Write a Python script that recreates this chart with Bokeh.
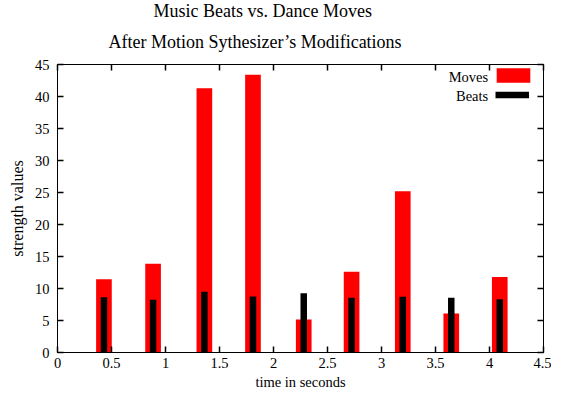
from bokeh.plotting import figure
from bokeh.models import LinearAxis, Range1d, Legend, LegendItem, Label, FixedTicker, Title
from bokeh.embed import file_html
from bokeh.resources import INLINE

# ---- data ----
times = [0.43, 0.885, 1.36, 1.81, 2.28, 2.723, 3.197, 3.646, 4.095]
moves = [11.45, 13.85, 41.3, 43.4, 5.15, 12.6, 25.2, 6.1, 11.8]
beats = [8.65, 8.23, 9.48, 8.75, 9.27, 8.54, 8.7, 8.54, 8.33]
x_ticks = [0, 0.5, 1, 1.5, 2, 2.5, 3, 3.5, 4, 4.5]
y_ticks = [0, 5, 10, 15, 20, 25, 30, 35, 40, 45]
zeros = [0] * len(times)
title_lines = ["Music Beats vs. Dance Moves", "After Motion Sythesizer\u2019s Modifications"]

FONT = "Liberation Serif"

p = figure(width=551, height=392, output_backend="svg", toolbar_location=None,
           x_range=Range1d(0, 4.5), y_range=Range1d(0, 45),
           min_border_left=57, min_border_right=8, min_border_top=64, min_border_bottom=40)
p.title = None
p.xgrid.visible = False
p.ygrid.visible = False
p.outline_line_color = "black"
p.outline_line_width = 1
p.background_fill_color = "white"
p.border_fill_color = "white"

red = p.vbar(x=times, width=0.145, top=moves, bottom=0, fill_color="#ff0000", line_color=None)
blk = p.segment(x0=times, y0=zeros, x1=times, y1=beats, line_color="black", line_width=6.5, line_cap="butt")

def style_axis(ax, labels=True):
    ax.major_tick_in = 6
    ax.major_tick_out = 0
    ax.minor_tick_in = 0
    ax.minor_tick_out = 0
    ax.axis_line_color = "black"
    ax.major_tick_line_color = "black"
    ax.major_tick_line_width = 1.5
    if labels:
        ax.major_label_text_font = FONT
        ax.major_label_text_font_size = "14.5px"
        ax.major_label_text_color = "black"
        ax.axis_label_text_font = FONT
        ax.axis_label_text_font_size = "14.5px"
        ax.axis_label_text_font_style = "normal"
        ax.axis_label_text_color = "black"
    else:
        ax.major_label_text_font_size = "1px"
        ax.major_label_text_alpha = 0
        ax.major_label_standoff = 0

xa = p.xaxis[0]
xa.ticker = FixedTicker(ticks=x_ticks)
xa.axis_label = "time in seconds"
style_axis(xa)
xa.major_label_standoff = 5
xa.axis_label_standoff = 3

ya = p.yaxis[0]
ya.ticker = FixedTicker(ticks=y_ticks)
ya.axis_label = "strength values"
style_axis(ya)
ya.axis_label_text_font_size = "16px"
ya.major_label_standoff = 8
ya.axis_label_standoff = 6

top_ax = LinearAxis(ticker=FixedTicker(ticks=x_ticks))
style_axis(top_ax, labels=False)
p.add_layout(top_ax, "above")
right_ax = LinearAxis(ticker=FixedTicker(ticks=y_ticks))
style_axis(right_ax, labels=False)
p.add_layout(right_ax, "right")

# two-line title (first added sits nearest to the plot)
p.add_layout(Title(text=title_lines[1], align="left", offset=51,
                   text_font=FONT, text_font_size="18px", text_font_style="normal",
                   text_color="black", standoff=26), "above")
p.add_layout(Title(text=title_lines[0], align="left", offset=96,
                   text_font=FONT, text_font_size="18px", text_font_style="normal",
                   text_color="black", standoff=-8), "above")

common = dict(location="top_right", label_width=0, padding=0, spacing=0,
              label_text_font_size="1px", label_text_alpha=0,
              border_line_color=None, background_fill_alpha=0)
leg_moves = Legend(items=[LegendItem(label=" ", renderers=[red])], margin=2,
                   glyph_width=42, glyph_height=18, label_height=1, label_standoff=7, **common)
leg_beats = Legend(items=[LegendItem(label=" ", renderers=[blk])], margin=13,
                   glyph_width=34, glyph_height=35, label_height=1, label_standoff=1, **common)
p.add_layout(leg_moves, "center")
p.add_layout(leg_beats, "center")

for txt, yy in (("Moves", 275.3), ("Beats", 256.3)):
    p.add_layout(Label(x=430.7, y=yy, x_units="screen", y_units="screen", text=txt,
                       text_align="right", text_baseline="middle", text_font=FONT,
                       text_font_size="14.5px", text_color="black"))

open("out.html", "w").write(file_html(p, INLINE))
